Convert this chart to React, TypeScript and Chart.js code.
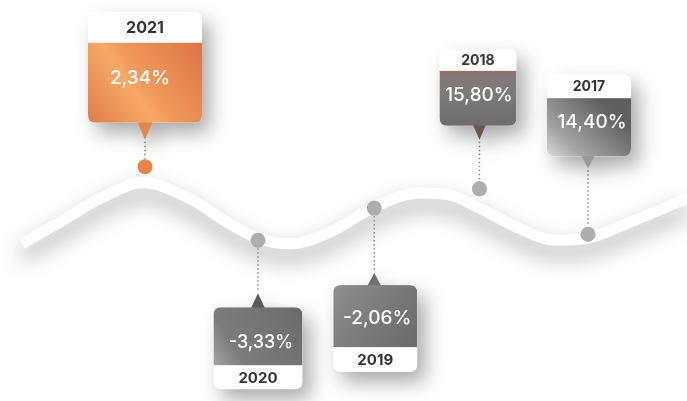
import React, { useEffect, useRef } from "react";
import { Chart, registerables } from "chart.js";

Chart.register(...registerables);

// ---- data ----
const years = ["2021", "2020", "2019", "2018", "2017"];
const values = [2.34, -3.33, -2.06, 15.8, 14.4];
// marker positions along the timeline (x = slot index, y = level on the wave)
const markerX = [0, 1.02, 2.07, 3.02, 4.0];
const markerLevel = [58.4, 40.1, 48.1, 52.9, 41.6];
// decorative wave ribbon
const waveX = [-1.11, -0.77, -0.41, -0.02, 0.41, 0.77, 1.02, 1.31, 1.67, 2.07, 2.48, 2.75, 3.02, 3.39, 3.7, 4.0, 4.38, 4.9];
const waveLevel = [39.2, 44.6, 50.4, 54.4, 50.4, 44.1, 40.6, 39.2, 42.1, 48.4, 51.9, 51.4, 48.1, 42.9, 40.1, 40.6, 44.6, 50.6];

const fmt = (v: number) => v.toFixed(2).replace(".", ",") + "%";

// ---- callout layout / style ----
type Layout = {
  dir: "up" | "down";
  w: number; head: number; body: number; stem: number; triW: number; triH: number;
  dx: number; valueDx: number; valueDy: number; yearSize: number; valueSize: number;
  grad: [number, number, number, number]; stops: [number, string][]; tri: string;
};
const layouts: Layout[] = [
  { dir: "up", w: 114, head: 31, body: 80, stem: 27, triW: 15, triH: 17, dx: 0, valueDx: -5, valueDy: -5, yearSize: 16, valueSize: 19,
    grad: [0, 1, 1, 0], stops: [[0, "#de7d4a"], [0.4, "#f7a967"], [0.5, "#f09a5c"], [1, "#dc7446"]], tri: "#e5844c" },
  { dir: "down", w: 89, head: 24, body: 58, stem: 53, triW: 14, triH: 14, dx: 0, valueDx: 3, valueDy: 6, yearSize: 15, valueSize: 18,
    grad: [0, 1, 1, 0], stops: [[0, "#a4a4a4"], [0.25, "#7c7c7c"], [0.7, "#727272"], [1, "#6a6a6a"]], tri: "#5a5a5a" },
  { dir: "down", w: 84, head: 25, body: 62, stem: 65, triW: 14, triH: 12, dx: 1, valueDx: 2, valueDy: 2, yearSize: 15, valueSize: 19,
    grad: [0, 0, 1, 1], stops: [[0, "#8e8e8e"], [0.6, "#777777"], [1, "#6a6a6a"]], tri: "#707070" },
  { dir: "up", w: 77, head: 22, body: 55, stem: 49, triW: 13, triH: 14, dx: -1.5, valueDx: 1, valueDy: -3.5, yearSize: 14, valueSize: 19,
    grad: [0, 0, 0, 1], stops: [[0, "#8e7170"], [0.15, "#817979"], [0.45, "#7a7a7a"], [1, "#6c6c6c"]], tri: "#6b5654" },
  { dir: "up", w: 84, head: 24, body: 58, stem: 66, triW: 14, triH: 12, dx: 1, valueDx: 3, valueDy: -5, yearSize: 14, valueSize: 19,
    grad: [0, 1, 0.6, 0], stops: [[0, "#dcdcdc"], [0.3, "#a6a6a6"], [1, "#5f5f5f"]], tri: "#9a9a9a" },
];

const FONT = "Inter, 'Open Sans', sans-serif";

function roundRect(ctx: CanvasRenderingContext2D, x: number, y: number, w: number, h: number, r: number) {
  ctx.beginPath();
  ctx.moveTo(x + r, y);
  ctx.lineTo(x + w - r, y);
  ctx.quadraticCurveTo(x + w, y, x + w, y + r);
  ctx.lineTo(x + w, y + h - r);
  ctx.quadraticCurveTo(x + w, y + h, x + w - r, y + h);
  ctx.lineTo(x + r, y + h);
  ctx.quadraticCurveTo(x, y + h, x, y + h - r);
  ctx.lineTo(x, y + r);
  ctx.quadraticCurveTo(x, y, x + r, y);
  ctx.closePath();
}

const calloutPlugin = {
  id: "callouts",
  beforeDatasetDraw(chart: any, args: any) {
    if (args.index !== 1) return;
    const ctx = chart.ctx;
    ctx.save();
    ctx.shadowColor = "rgba(0,0,0,0.36)";
    ctx.shadowBlur = 22;
    ctx.shadowOffsetY = 11;
  },
  afterDatasetDraw(chart: any, args: any) {
    if (args.index !== 1) return;
    const ctx: CanvasRenderingContext2D = chart.ctx;
    ctx.restore();
    const meta = chart.getDatasetMeta(0);
    meta.data.forEach((pt: any, i: number) => {
      const L = layouts[i];
      const px = pt.x, py = pt.y;
      const up = L.dir === "up";
      const tipY = up ? py - L.stem : py + L.stem;
      const baseY = up ? tipY - L.triH : tipY + L.triH;
      const h = L.head + L.body;
      const top = up ? baseY - h : baseY;
      const x = px - L.w / 2 + L.dx;
      const bodyTop = up ? top + L.head : top;
      const labelTop = up ? top : top + L.body;

      // dotted stem
      ctx.save();
      ctx.strokeStyle = "#8a8a8a";
      ctx.lineWidth = 1.5;
      ctx.setLineDash([1.5, 2.5]);
      ctx.beginPath();
      if (up) { ctx.moveTo(px, tipY + 2); ctx.lineTo(px, py - 8); }
      else { ctx.moveTo(px, py + 8); ctx.lineTo(px, tipY - 2); }
      ctx.stroke();
      ctx.restore();

      // shadowed box
      ctx.save();
      ctx.shadowColor = "rgba(0,0,0,0.34)";
      ctx.shadowBlur = 20;
      ctx.shadowOffsetX = 8;
      ctx.shadowOffsetY = 10;
      roundRect(ctx, x, top, L.w, h, 8);
      ctx.fillStyle = "#ffffff";
      ctx.fill();
      // pointer
      ctx.beginPath();
      ctx.moveTo(px - L.triW / 2, baseY + (up ? -1 : 1));
      ctx.lineTo(px + L.triW / 2, baseY + (up ? -1 : 1));
      ctx.lineTo(px, tipY);
      ctx.closePath();
      ctx.fillStyle = L.tri;
      ctx.fill();
      ctx.restore();

      // body gradient
      ctx.save();
      roundRect(ctx, x, top, L.w, h, 8);
      ctx.clip();
      const [gx0, gy0, gx1, gy1] = L.grad;
      const g = ctx.createLinearGradient(x + gx0 * L.w, bodyTop + gy0 * L.body, x + gx1 * L.w, bodyTop + gy1 * L.body);
      L.stops.forEach(([o, c]) => g.addColorStop(o, c));
      ctx.fillStyle = g;
      ctx.fillRect(x, bodyTop, L.w, L.body);
      ctx.restore();

      // texts
      ctx.save();
      ctx.textAlign = "center";
      ctx.textBaseline = "middle";
      ctx.fillStyle = "#333333";
      ctx.font = `700 ${L.yearSize}px ${FONT}`;
      ctx.fillText(years[i], x + L.w / 2, labelTop + L.head / 2 + 1);
      ctx.fillStyle = "#ffffff";
      ctx.font = `500 ${L.valueSize}px ${FONT}`;
      ctx.fillText(fmt(values[i]), x + L.w / 2 + L.valueDx, bodyTop + L.body / 2 + L.valueDy);
      ctx.restore();
    });
  },
};

export default function App() {
  const ref = useRef<HTMLCanvasElement>(null);
  useEffect(() => {
    if (!ref.current) return;
    const chart = new Chart(ref.current, {
      type: "line",
      data: {
        datasets: [
          {
            label: "markers",
            data: markerX.map((x, i) => ({ x, y: markerLevel[i] })),
            showLine: false,
            pointRadius: 7.5,
            pointHoverRadius: 7.5,
            pointBorderWidth: 0,
            pointBackgroundColor: years.map((_, i) => (i === 0 ? "#e8834a" : "#adadad")),
            order: 1,
          },
          {
            label: "wave",
            data: waveX.map((x, i) => ({ x, y: waveLevel[i] })),
            borderColor: "#ffffff",
            borderWidth: 11,
            pointRadius: 0,
            cubicInterpolationMode: "monotone",
            borderCapStyle: "butt",
            fill: false,
            order: 2,
          },
        ],
      },
      options: {
        responsive: false,
        animation: false,
        events: [],
        layout: { padding: 0, autoPadding: false },
        scales: {
          x: { type: "linear", min: -1.3093, max: 4.8939, display: false },
          y: { min: 0, max: 100, display: false },
        },
        plugins: { legend: { display: false }, tooltip: { enabled: false } },
      },
      plugins: [calloutPlugin],
    } as any);
    return () => chart.destroy();
  }, []);
  return (
    <div style={{ position: "absolute", left: 0, top: 0, width: 687, height: 401, background: "#fff" }}>
      <canvas ref={ref} width={687} height={401} style={{ display: "block" }} />
    </div>
  );
}
